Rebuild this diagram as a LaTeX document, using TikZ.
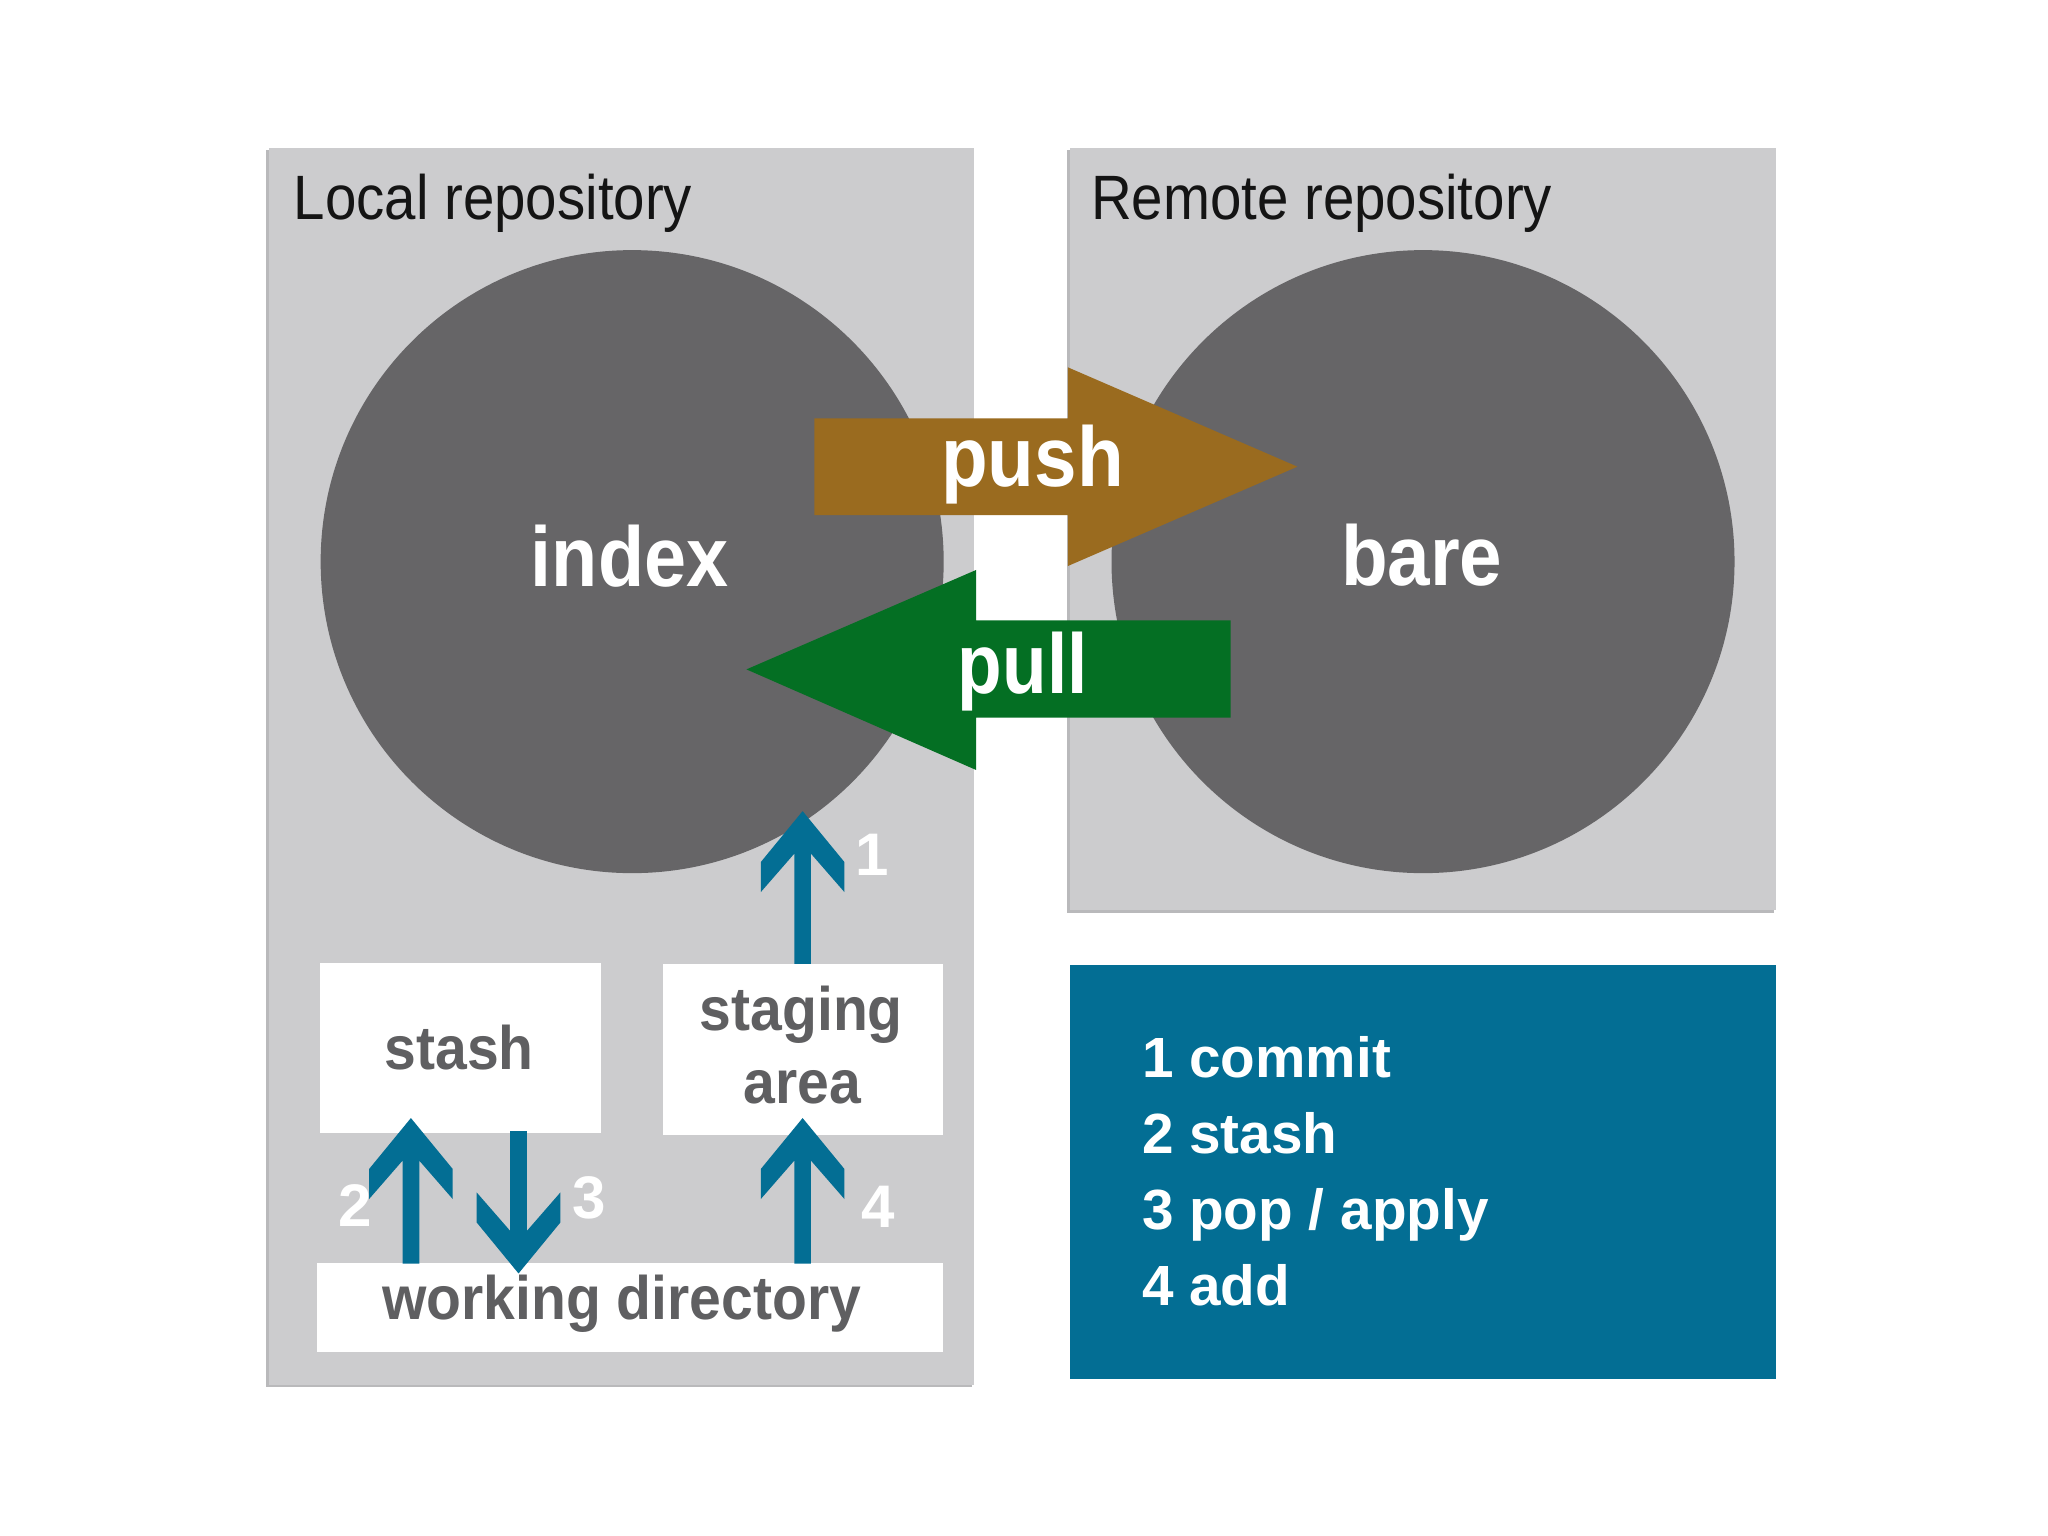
\documentclass[tikz,border=0pt]{standalone}
\usepackage{fontspec}
\setmainfont{Liberation Sans}
\usetikzlibrary{calc,fit}
\definecolor{panelc}{HTML}{CCCCCE}
\definecolor{shadec}{HTML}{B9B9BB}
\definecolor{discc}{HTML}{666567}
\definecolor{pushc}{HTML}{9A6B1F}
\definecolor{pullc}{HTML}{046F23}
\definecolor{flowblue}{HTML}{036E94}
\definecolor{boxtext}{HTML}{5F5F61}
\newcommand\sqz[2]{\scalebox{#1}[1]{#2}}
% #1 base coordinate, #2 tip coordinate, #3 = 1 (up) or -1 (down)
\newcommand\chev[3]{%
  \fill[flowblue] (#2) -- ($(#2)+(32,{39*#3})$) -- ($(#2)+(32,{62*#3})$)
    -- ($(#2)+(6.4,{32.6*#3})$) -- ($(#1)+(6.4,0)$) -- ($(#1)+(-6.4,0)$)
    -- ($(#2)+(-6.4,{32.6*#3})$) -- ($(#2)+(-32,{62*#3})$)
    -- ($(#2)+(-32,{39*#3})$) -- cycle;}
\begin{document}
\begin{tikzpicture}[x=0.5pt,y=-0.5pt,
  title/.style={anchor=base west, inner sep=0, text=black!92, font=\fontsize{24}{28}\selectfont},
  big/.style={anchor=base, inner sep=0, text=white, font=\bfseries\fontsize{32.5}{36}\selectfont},
  wbox/.style={fill=white, draw=none, inner sep=0},
  disc/.style={circle, fill=discc, inner sep=0},
  boxlabel/.style={anchor=base, inner sep=0, text=boxtext, font=\bfseries\fontsize{23.5}{28}\selectfont},
  num/.style={anchor=base, inner sep=0, text=white, font=\bfseries\fontsize{23}{28}\selectfont},
  legendtext/.style={anchor=base west, inner sep=0, text=white, font=\bfseries\fontsize{21.7}{28}\selectfont}]
\useasboundingbox[fill=white] (0,0) rectangle (1568,1176);

% panels
\fill[shadec] (204,115) rectangle (744,1062);
\fill[panelc] (206,113) rectangle (746,1060);
\fill[shadec] (817,115) rectangle (1358,699);
\fill[panelc] (819,113) rectangle (1360,697);
\fill[flowblue] (819,739) rectangle (1360,1056);

% titles
\node[title] (loctitle) at (224.6,168.4) {\sqz{0.90}{Local repository}};
\node[title] (remtitle) at (835,168.4) {\sqz{0.90}{Remote repository}};

% discs
\node[disc, minimum size=238.5pt] (index) at (484,430) {};
\node[disc, minimum size=238.5pt] (bare) at (1089.5,430) {};
\node[big] (indexlbl) at (482,448.7) {\sqz{0.89}{index}};
\node[big] (barelbl) at (1088.5,448) {\sqz{0.90}{bare}};

% push / pull arrows
\fill[pushc] (623.5,320.3) -- (817.5,320.3) -- (817.5,281.2) -- (993.3,357.3)
  -- (817.5,433.4) -- (817.5,394.3) -- (623.5,394.3) -- cycle;
\fill[pullc] (942.2,475) -- (747.3,475) -- (747.3,436.4) -- (571.5,512.5)
  -- (747.3,589.5) -- (747.3,549.5) -- (942.2,549.5) -- cycle;
\node[big] (pushlbl) at (790.5,372.6) {\sqz{0.90}{push}};
\node[big] (pulllbl) at (783,531) {\sqz{0.86}{pull}};

% white boxes
\node[wbox, fit={(245,737) (460.5,867.5)}] (stash) {};
\node[wbox, fit={(507.6,738) (722,869)}] (staging) {};
\node[wbox, fit={(242.7,967.3) (722,1035)}] (wd) {};
\node[boxlabel] (stashlbl) at (351.5,818.7) {\sqz{0.93}{stash}};
\node[boxlabel] (staginglbl) at (613.5,788.6) {\sqz{0.93}{staging}};
\node[boxlabel] (arealbl) at (614.4,844.7) {\sqz{0.93}{area}};
\node[boxlabel] (wdlbl) at (476,1010.6) {\sqz{0.93}{working directory}};

% blue flow arrows
\coordinate (b1) at (614.5,738);   \coordinate (t1) at (614.5,621);
\coordinate (b2) at (314.6,967.5); \coordinate (t2) at (314.6,856);
\coordinate (b3) at (397,866);     \coordinate (t3) at (397,975);
\coordinate (b4) at (614.5,967.5); \coordinate (t4) at (614.5,856);
\chev{b1}{t1}{1}
\chev{b2}{t2}{1}
\chev{b3}{t3}{-1}
\chev{b4}{t4}{1}
\node[num] (n1) at (667.4,670) {1};
\node[num] (n2) at (272,939.2) {2};
\node[num] (n3) at (451,932.8) {3};
\node[num] (n4) at (672.4,939.7) {4};

% legend
\node[legendtext] (l1) at (874,824.8) {1 commit};
\node[legendtext] (l2) at (874,883) {2 stash};
\node[legendtext] (l3) at (874,941.2) {3 pop / apply};
\node[legendtext] (l4) at (874,999.2) {4 add};
\end{tikzpicture}
\end{document}
